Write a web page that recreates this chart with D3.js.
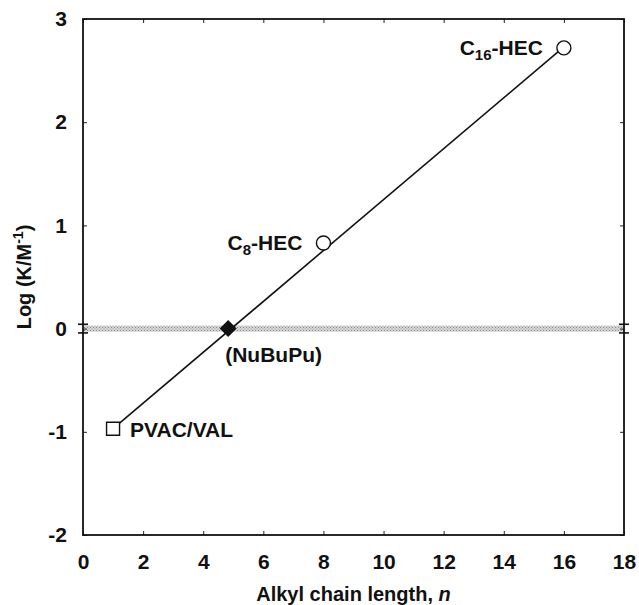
<!DOCTYPE html>
<html>
<head>
<meta charset="utf-8">
<script src="https://cdn.jsdelivr.net/npm/d3@7"></script>
<style>
  body { margin: 0; background: #fff; }
  svg text { font-family: "Liberation Sans", Arial, Helvetica, sans-serif; font-weight: bold; fill: #111; }
</style>
</head>
<body>
<div id="chart"></div>
<script>
// data
var xTicks = [0, 2, 4, 6, 8, 10, 12, 14, 16, 18];
var yTicks = [-2, -1, 0, 1, 2, 3];
var pointNames = ["PVAC/VAL", "NuBuPu", "C8-HEC", "C16-HEC"];
var pointX = [1, 4.83, 8, 16];
var pointY = [-0.97, 0, 0.83, 2.72];
var pointShape = ["square", "diamond", "circle", "circle"];
var fitX = [1, 16];
var fitY = [-0.97, 2.73];
var bandLow = -0.03, bandHigh = 0.03;

var width = 639, height = 605;
var margin = {top: 19, right: 15, bottom: 70, left: 83};

var svg = d3.select("#chart").append("svg")
    .attr("width", width)
    .attr("height", height);

var x = d3.scaleLinear().domain([0, 18]).range([margin.left, width - margin.right]);
var y = d3.scaleLinear().domain([-2, 3]).range([height - margin.bottom, margin.top]);

// stipple pattern for the zero band
var defs = svg.append("defs");
var pat = defs.append("pattern")
    .attr("id", "stip")
    .attr("patternUnits", "userSpaceOnUse")
    .attr("width", 3).attr("height", 3);
pat.append("rect").attr("width", 3).attr("height", 3).attr("fill", "#d4d4d4");
pat.append("rect").attr("width", 1).attr("height", 1).attr("fill", "#8a8a8a");
pat.append("rect").attr("x", 1.5).attr("y", 1.5).attr("width", 1).attr("height", 1).attr("fill", "#a8a8a8");

svg.append("rect")
    .attr("x", x(0))
    .attr("y", y(bandHigh))
    .attr("width", x(18) - x(0))
    .attr("height", y(bandLow) - y(bandHigh))
    .attr("fill", "url(#stip)");

// axes, ticks pointing inward
var tickLen = 4;
var fmt = function(d) { return String(d); };
svg.append("g")
    .attr("transform", "translate(0," + y(-2) + ")")
    .call(d3.axisBottom(x).tickValues(xTicks).tickFormat(fmt).tickSize(-tickLen).tickPadding(19))
    .call(function(g) {
        g.select(".domain").remove();
        g.selectAll("text").attr("font-size", 21).attr("fill", "#111");
        g.selectAll("line").attr("stroke", "#222");
    });
svg.append("g")
    .attr("transform", "translate(0," + y(3) + ")")
    .call(d3.axisTop(x).tickValues(xTicks).tickSize(-tickLen).tickFormat(""))
    .call(function(g) { g.select(".domain").remove(); g.selectAll("line").attr("stroke", "#222"); });
svg.append("g")
    .attr("transform", "translate(" + x(0) + ",0)")
    .call(d3.axisLeft(y).tickValues(yTicks).tickFormat(fmt).tickSize(-tickLen).tickPadding(16))
    .call(function(g) {
        g.select(".domain").remove();
        g.selectAll("text").attr("font-size", 21).attr("fill", "#111");
        g.selectAll("line").attr("stroke", "#222");
    });
svg.append("g")
    .attr("transform", "translate(" + x(18) + ",0)")
    .call(d3.axisRight(y).tickValues(yTicks).tickSize(-tickLen).tickFormat(""))
    .call(function(g) { g.select(".domain").remove(); g.selectAll("line").attr("stroke", "#222"); });

// frame
svg.append("rect")
    .attr("x", x(0)).attr("y", y(3))
    .attr("width", x(18) - x(0)).attr("height", y(-2) - y(3))
    .attr("fill", "none").attr("stroke", "#111").attr("stroke-width", 1.8);

// axis break marks at the zero band
[x(0), x(18)].forEach(function(px) {
    [bandHigh + 0.012, bandLow - 0.012].forEach(function(v) {
        svg.append("line")
            .attr("x1", px - 5).attr("x2", px + 5)
            .attr("y1", y(v)).attr("y2", y(v))
            .attr("stroke", "#111").attr("stroke-width", 1.6);
    });
});

// fit line
svg.append("path")
    .datum(d3.zip(fitX, fitY))
    .attr("d", d3.line().x(function(d) { return x(d[0]); }).y(function(d) { return y(d[1]); }))
    .attr("stroke", "#111").attr("stroke-width", 1.6).attr("fill", "none");

// markers
var pts = d3.range(pointX.length).map(function(i) {
    return {name: pointNames[i], x: pointX[i], y: pointY[i], shape: pointShape[i]};
});
svg.selectAll(".pt")
    .data(pts)
    .enter().append("path")
    .attr("class", "pt")
    .attr("transform", function(d) { return "translate(" + x(d.x) + "," + y(d.y) + ")"; })
    .attr("d", function(d) {
        if (d.shape === "square") return "M-6.5,-6.5H6.5V6.5H-6.5Z";
        if (d.shape === "diamond") return "M0,-7.5L7.5,0L0,7.5L-7.5,0Z";
        return d3.symbol().type(d3.symbolCircle).size(Math.PI * 49)();
    })
    .attr("fill", function(d) { return d.shape === "diamond" ? "#111" : "#fff"; })
    .attr("stroke", "#111")
    .attr("stroke-width", 1.4);

// point labels
function hecLabel(d, sub) {
    var t = svg.append("text")
        .attr("x", x(d.x) - 21)
        .attr("y", y(d.y) + 7)
        .attr("text-anchor", "end")
        .attr("font-size", 21);
    t.append("tspan").text("C");
    t.append("tspan").attr("font-size", 15).attr("dy", 5).text(sub);
    t.append("tspan").attr("dy", -5).text("-HEC");
}
hecLabel(pts[3], "16");
hecLabel(pts[2], "8");

svg.append("text")
    .attr("x", x(pts[1].x) - 3)
    .attr("y", y(pts[1].y) + 33)
    .attr("font-size", 21)
    .text("(" + pts[1].name + ")");

svg.append("text")
    .attr("x", x(pts[0].x) + 17)
    .attr("y", y(pts[0].y) + 8)
    .attr("font-size", 21)
    .text(pts[0].name);

// axis titles
var xt = svg.append("text")
    .attr("x", (x(0) + x(18)) / 2)
    .attr("y", 601)
    .attr("text-anchor", "middle")
    .attr("font-size", 20);
xt.append("tspan").text("Alkyl chain length, ");
xt.append("tspan").attr("font-style", "italic").text("n");

var yt = svg.append("text")
    .attr("transform", "translate(31," + y(0.5) + ") rotate(-90)")
    .attr("text-anchor", "middle")
    .attr("font-size", 20);
yt.append("tspan").text("Log (K/M");
yt.append("tspan").attr("font-size", 14).attr("dy", -8).text("-1");
yt.append("tspan").attr("dy", 8).text(")");
</script>
</body>
</html>
